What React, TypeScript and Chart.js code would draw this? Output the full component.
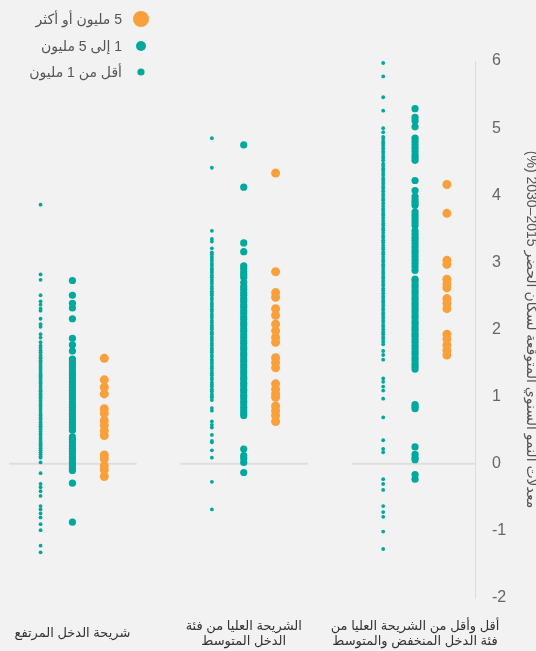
import React, { useEffect, useRef } from "react";
import { Chart, registerables } from "chart.js";

Chart.register(...registerables);

// ---- categories (left to right) ----
const categoryLabels: string[][] = [
  ["شريحة الدخل المرتفع"],
  ["الشريحة العليا من فئة", "الدخل المتوسط"],
  ["أقل وأقل من الشريحة العليا من", "فئة الدخل المنخفض والمتوسط"],
];

// ---- series names ----
const smallName = "أقل من 1 مليون";
const mediumName = "1 إلى 5 مليون";
const largeName = "5 مليون أو أكثر";

// ---- y axis ----
const yTickValues = [-2, -1, 0, 1, 2, 3, 4, 5, 6];
const yTitle = "\u202Bمعدلات النمو السنوي المتوقعة لسكان الحضر 2015–2030 (%)\u202C";

// ---- high income ----
const highSmall = [3.86, 2.82, 2.74, 2.51, 2.42, 2.37, 2.31, 2.28, 2.16, 2.08, 2.04, 1.93, 1.88, 1.81, 1.76, 1.73, 1.69, 1.66, 1.62, 1.59, 1.57, 1.54, 1.52, 1.49, 1.46, 1.43, 1.41, 1.38, 1.35, 1.32, 1.30, 1.27, 1.24, 1.21, 1.19, 1.16, 1.13, 1.10, 1.08, 1.05, 1.02, 0.99, 0.97, 0.94, 0.91, 0.88, 0.86, 0.83, 0.80, 0.77, 0.74, 0.72, 0.69, 0.66, 0.62, 0.59, 0.56, 0.54, 0.51, 0.48, 0.45, 0.43, 0.40, 0.37, 0.34, 0.31, 0.29, 0.26, 0.23, 0.20, 0.17, 0.14, 0.11, 0.09, 0.02, -0.14, -0.30, -0.35, -0.41, -0.48, -0.63, -0.68, -0.74, -0.80, -0.90, -0.99, -1.22, -1.32];
const highMedium = [2.73, 2.51, 2.39, 2.32, 2.16, 1.87, 1.77, 1.68, 1.56, 1.52, 1.48, 1.44, 1.39, 1.35, 1.31, 1.27, 1.22, 1.18, 1.14, 1.09, 1.05, 1.01, 0.97, 0.92, 0.88, 0.84, 0.80, 0.75, 0.71, 0.67, 0.62, 0.58, 0.54, 0.50, 0.40, 0.36, 0.32, 0.27, 0.23, 0.19, 0.15, 0.10, 0.06, 0.02, -0.03, -0.07, -0.10, -0.29, -0.87];
const highLarge = [1.57, 1.25, 1.14, 1.04, 0.82, 0.75, 0.64, 0.57, 0.49, 0.42, 0.13, 0.07, -0.03, -0.09, -0.19];

// ---- upper middle income ----
const umSmall = [4.85, 4.41, 3.47, 3.35, 3.31, 3.21, 3.15, 3.12, 3.08, 3.05, 3.02, 2.98, 2.95, 2.91, 2.88, 2.85, 2.81, 2.78, 2.74, 2.71, 2.68, 2.64, 2.61, 2.57, 2.54, 2.51, 2.47, 2.44, 2.40, 2.37, 2.34, 2.30, 2.27, 2.23, 2.20, 2.17, 2.13, 2.10, 2.06, 2.03, 2.00, 1.96, 1.93, 1.89, 1.86, 1.83, 1.79, 1.76, 1.72, 1.69, 1.66, 1.62, 1.59, 1.55, 1.52, 1.49, 1.45, 1.42, 1.38, 1.35, 1.32, 1.28, 1.25, 1.21, 1.18, 1.15, 1.11, 1.08, 1.04, 1.01, 0.99, 0.95, 0.83, 0.79, 0.63, 0.58, 0.54, 0.43, 0.34, 0.32, 0.20, 0.09, -0.27, -0.68];
const umMedium = [4.75, 4.12, 3.29, 3.16, 2.95, 2.91, 2.86, 2.82, 2.78, 2.70, 2.64, 2.60, 2.55, 2.51, 2.46, 2.42, 2.37, 2.33, 2.28, 2.24, 2.19, 2.15, 2.10, 2.06, 2.01, 1.97, 1.92, 1.88, 1.83, 1.79, 1.74, 1.70, 1.65, 1.61, 1.56, 1.52, 1.47, 1.43, 1.38, 1.34, 1.29, 1.25, 1.20, 1.16, 1.11, 1.07, 1.02, 0.98, 0.93, 0.89, 0.84, 0.80, 0.76, 0.72, 0.22, 0.12, 0.08, 0.02, -0.13];
const umLarge = [4.33, 2.86, 2.55, 2.48, 2.31, 2.21, 2.08, 1.98, 1.88, 1.81, 1.58, 1.51, 1.43, 1.19, 1.11, 1.04, 0.99, 0.86, 0.79, 0.72, 0.63];

// ---- low & lower middle income ----
const lowSmall = [5.97, 5.77, 5.46, 5.26, 5.00, 4.94, 4.87, 4.84, 4.80, 4.77, 4.74, 4.70, 4.66, 4.63, 4.59, 4.56, 4.52, 4.47, 4.44, 4.40, 4.37, 4.33, 4.30, 4.26, 4.23, 4.20, 4.17, 4.13, 4.10, 4.06, 4.02, 3.99, 3.95, 3.92, 3.88, 3.84, 3.80, 3.77, 3.73, 3.70, 3.66, 3.62, 3.58, 3.55, 3.51, 3.48, 3.44, 3.40, 3.37, 3.33, 3.30, 3.26, 3.22, 3.19, 3.15, 3.12, 3.08, 3.04, 3.01, 2.97, 2.94, 2.90, 2.86, 2.83, 2.79, 2.76, 2.72, 2.68, 2.65, 2.61, 2.58, 2.54, 2.50, 2.47, 2.43, 2.40, 2.36, 2.32, 2.29, 2.25, 2.22, 2.18, 2.14, 2.11, 2.07, 2.04, 2.00, 1.96, 1.93, 1.89, 1.86, 1.82, 1.78, 1.68, 1.62, 1.55, 1.27, 1.22, 1.15, 1.09, 0.97, 0.69, 0.35, 0.22, 0.17, -0.23, -0.30, -0.39, -0.63, -0.72, -0.79, -1.01, -1.27];
const lowMedium = [5.29, 5.16, 5.11, 5.02, 4.85, 4.80, 4.75, 4.70, 4.65, 4.60, 4.56, 4.52, 4.22, 4.07, 3.98, 3.93, 3.89, 3.85, 3.75, 3.70, 3.65, 3.60, 3.55, 3.47, 3.42, 3.37, 3.33, 3.28, 3.23, 3.18, 3.14, 3.09, 3.04, 2.99, 2.94, 2.88, 2.75, 2.71, 2.66, 2.62, 2.57, 2.53, 2.48, 2.44, 2.39, 2.35, 2.30, 2.26, 2.21, 2.17, 2.12, 2.08, 2.03, 1.99, 1.94, 1.90, 1.85, 1.81, 1.76, 1.72, 1.67, 1.63, 1.58, 1.54, 1.49, 1.45, 1.41, 0.88, 0.85, 0.82, 0.25, 0.14, 0.09, 0.06, -0.16, -0.23];
const lowLarge = [4.16, 3.73, 3.03, 2.97, 2.75, 2.68, 2.62, 2.46, 2.39, 2.31, 1.93, 1.86, 1.77, 1.69, 1.62];

const smallByCat = [highSmall, umSmall, lowSmall];
const mediumByCat = [highMedium, umMedium, lowMedium];
const largeByCat = [highLarge, umLarge, lowLarge];

// ---- styling ----
const BG = "#f2f2f2";
const TEAL = "#00a99d";
const ORANGE = "#f9a03b";
const FONT = "'Liberation Sans', Arial, 'DejaVu Sans', sans-serif";
const OFFSET = 0.186; // side offset of series inside a category band
const X_MIN = -0.3965;
const X_MAX = 2.35;

function toPoints(groups: number[][], offset: number) {
  const pts: { x: number; y: number }[] = [];
  groups.forEach((vals, i) => vals.forEach((v) => pts.push({ x: i + offset, y: v })));
  return pts;
}

const bgPlugin = {
  id: "bg",
  beforeDraw(chart: any) {
    const { ctx, width, height } = chart;
    ctx.save();
    ctx.fillStyle = BG;
    ctx.fillRect(0, 0, width, height);
    ctx.restore();
  },
};

const zeroLinePlugin = {
  id: "zeroLine",
  beforeDatasetsDraw(chart: any) {
    const { ctx, chartArea, scales } = chart;
    const x = scales.x;
    const py = scales.y.getPixelForValue(0);
    ctx.save();
    ctx.strokeStyle = "#dedede";
    ctx.lineWidth = 2;
    categoryLabels.forEach((_, i) => {
      const x0 = Math.max(chartArea.left + 2, x.getPixelForValue(i - 0.37));
      const x1 = Math.min(chartArea.right, x.getPixelForValue(i + 0.375));
      ctx.beginPath();
      ctx.moveTo(x0, py);
      ctx.lineTo(x1, py);
      ctx.stroke();
    });
    ctx.restore();
  },
};

const legendPlugin = {
  id: "rtlLegend",
  afterDraw(chart: any) {
    const { ctx } = chart;
    const rows = [
      { di: 2, y: 19, r: 8 },
      { di: 1, y: 46, r: 5 },
      { di: 0, y: 72, r: 3.6 },
    ];
    ctx.save();
    ctx.font = `14px ${FONT}`;
    ctx.textBaseline = "middle";
    ctx.textAlign = "right";
    (ctx as any).direction = "rtl";
    rows.forEach((row) => {
      const ds = chart.data.datasets[row.di];
      ctx.fillStyle = ds.backgroundColor;
      ctx.beginPath();
      ctx.arc(141, row.y, row.r, 0, Math.PI * 2);
      ctx.fill();
      ctx.fillStyle = "#555";
      ctx.fillText(ds.label, 122, row.y + 1);
    });
    ctx.restore();
  },
};

export default function App() {
  const ref = useRef<HTMLCanvasElement>(null);
  useEffect(() => {
    document.body.style.margin = "0";
    document.body.style.background = BG;
    const chart = new Chart(ref.current as HTMLCanvasElement, {
      type: "scatter",
      data: {
        datasets: [
          {
            label: smallName,
            data: toPoints(smallByCat, -OFFSET),
            backgroundColor: TEAL,
            borderWidth: 0,
            pointRadius: 1.9,
          },
          {
            label: mediumName,
            data: toPoints(mediumByCat, 0),
            backgroundColor: TEAL,
            borderWidth: 0,
            pointRadius: 3.6,
          },
          {
            label: largeName,
            data: toPoints(largeByCat, OFFSET),
            backgroundColor: ORANGE,
            borderWidth: 0,
            pointRadius: 4.5,
          },
        ],
      },
      options: {
        animation: false,
        responsive: false,
        maintainAspectRatio: false,
        layout: { padding: { top: 61, left: 0, right: 0, bottom: 0 } },
        plugins: { legend: { display: false }, tooltip: { enabled: false } },
        scales: {
          x: {
            type: "linear",
            min: X_MIN,
            max: X_MAX,
            grid: { display: false, drawTicks: false },
            border: { display: false },
            afterBuildTicks: (s: any) => {
              s.ticks = categoryLabels.map((_, i) => ({ value: i }));
            },
            afterFit: (s: any) => {
              s.height = 53;
              s.paddingLeft = 0;
              s.paddingRight = 0;
            },
            ticks: {
              autoSkip: false,
              maxRotation: 0,
              minRotation: 0,
              padding: 28,
              crossAlign: "center",
              color: "#333",
              font: { family: FONT, size: 13 },
              callback: (v: any) => categoryLabels[v] ?? "",
            },
          },
          y: {
            position: "right",
            min: -2,
            max: 6,
            afterBuildTicks: (s: any) => {
              s.ticks = yTickValues.map((v) => ({ value: v }));
            },
            afterFit: (s: any) => {
              s.width = 61;
            },
            grid: { display: false, drawTicks: false },
            border: { display: true, color: "#dcdcdc", width: 1 },
            ticks: {
              padding: 17,
              color: "#666",
              font: { family: FONT, size: 16 },
            },
            title: {
              display: true,
              text: yTitle,
              color: "#555",
              font: { family: FONT, size: 14 },
              padding: { top: -3, bottom: 0 },
            },
          },
        },
      },
      plugins: [bgPlugin, zeroLinePlugin, legendPlugin],
    } as any);
    return () => chart.destroy();
  }, []);
  return <canvas ref={ref} width={536} height={651} style={{ display: "block" }} />;
}
